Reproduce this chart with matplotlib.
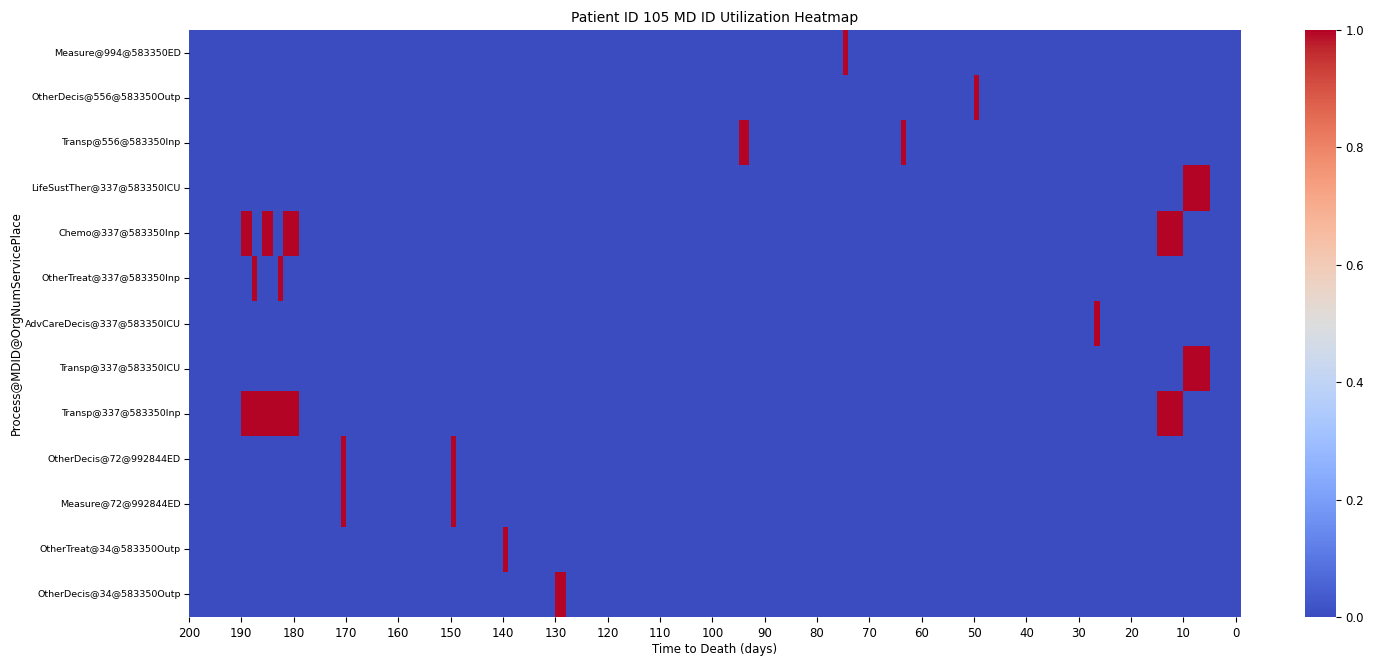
import numpy as np
import matplotlib
matplotlib.use("Agg")
import matplotlib.pyplot as plt
import seaborn as sns

# Process@MDID@OrgNumServicePlace rows, top to bottom
processes = [
    "Measure@994@583350ED",
    "OtherDecis@556@583350Outp",
    "Transp@556@583350Inp",
    "LifeSustTher@337@583350ICU",
    "Chemo@337@583350Inp",
    "OtherTreat@337@583350Inp",
    "AdvCareDecis@337@583350ICU",
    "Transp@337@583350ICU",
    "Transp@337@583350Inp",
    "OtherDecis@72@992844ED",
    "Measure@72@992844ED",
    "OtherTreat@34@583350Outp",
    "OtherDecis@34@583350Outp",
]

# Days before death on which each process was used
active_days = [
    [75],
    [50],
    [95, 94, 64],
    [10, 9, 8, 7, 6],
    [190, 189, 186, 185, 182, 181, 180, 15, 14, 13, 12, 11],
    [188, 183],
    [27],
    [10, 9, 8, 7, 6],
    [190, 189, 188, 187, 186, 185, 184, 183, 182, 181, 180, 15, 14, 13, 12, 11],
    [171, 150],
    [171, 150],
    [140],
    [130, 129],
]

days = np.arange(200, -1, -1)
tick_days = np.arange(200, -1, -10)

usage = np.zeros((len(processes), len(days)))
for i, used in enumerate(active_days):
    for d in used:
        usage[i, days == d] = 1.0

fig = plt.figure(figsize=(13.81, 6.56), dpi=100)
W, H = 1381, 656
ax = fig.add_axes([189 / W, 1 - 617 / H, (1241 - 189) / W, (617 - 30) / H])
cax = fig.add_axes([1305 / W, 1 - 617 / H, (1336 - 1305) / W, (617 - 30) / H])

sns.heatmap(usage, cmap="coolwarm", vmin=0, vmax=1, ax=ax, cbar_ax=cax,
            xticklabels=False, yticklabels=processes)

ax.set_xticks([int(np.where(days == d)[0][0]) for d in tick_days])
ax.set_xticklabels([str(d) for d in tick_days], fontsize=8.5, rotation=0)
ax.set_yticklabels(processes, fontsize=6.8, rotation=0)
ax.tick_params(axis="y", pad=2.5)
ax.set_title("Patient ID 105 MD ID Utilization Heatmap", fontsize=10)
ax.set_xlabel("Time to Death (days)", fontsize=8.5, labelpad=2)
ax.set_ylabel("Process@MDID@OrgNumServicePlace", fontsize=8.5, labelpad=1.5)
cax.tick_params(labelsize=8.5)

fig.savefig("out.png", dpi=100)
